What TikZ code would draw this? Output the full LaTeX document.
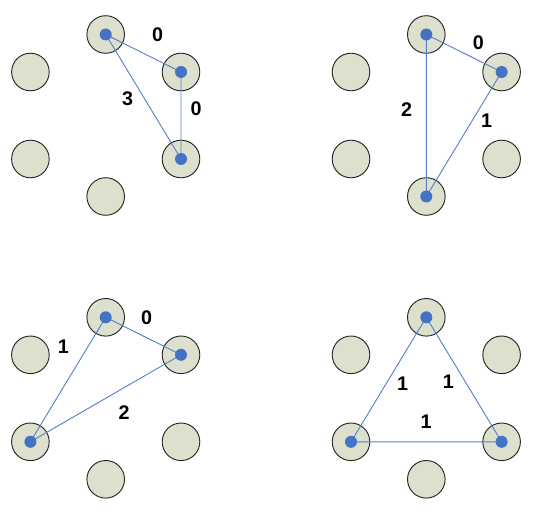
\documentclass[tikz,border=0pt]{standalone}
\usepackage{fontspec}
\setmainfont{Liberation Sans}
\definecolor{seatfill}{HTML}{DDE0CC}
\definecolor{pick}{HTML}{4472C4}
\begin{document}
\begin{tikzpicture}[x=0.75pt,y=-0.75pt,
  seat/.style={circle,draw=black!85,fill=seatfill,line width=0.7pt,minimum size=28.2pt,inner sep=0pt},
  link/.style={pick!90!white,line width=0.7pt},
  wt/.style={font=\fontsize{14.8}{17}\selectfont\bfseries,inner sep=0pt}]
\useasboundingbox (0,0) rectangle (541,516);
% four panels of six seats each
\foreach \p/\cx/\cy in {a/105.7/115.5, b/426.3/115.5, c/105.7/398.3, d/426.3/398.3} {
  \foreach \s/\dx/\dy in {t/0/-81, ur/75.3/-43.5, lr/75.3/43.5, b/0/81, ll/-75.3/43.5, ul/-75.3/-43.5}
    \node[seat] (\p\s) at (\cx+\dx,\cy+\dy) {};
}
% chosen triangles
\draw[link] (at.center) -- (aur.center) -- (alr.center) -- (at.center);
\draw[link] (bt.center) -- (bur.center) -- (bb.center) -- (bt.center);
\draw[link] (ct.center) -- (cur.center) -- (cll.center) -- (ct.center);
\draw[link] (dt.center) -- (dlr.center) -- (dll.center) -- (dt.center);
\foreach \n in {at,aur,alr,bt,bur,bb,ct,cur,cll,dt,dll,dlr}
  \fill[pick] (\n.center) circle (4.5pt);
% weights
\node[wt] (wa1) at (157.7,34.3) {0};
\node[wt] (wa2) at (196,108.3) {0};
\node[wt] (wa3) at (127.7,99) {3};
\node[wt] (wb1) at (478.3,42.7) {0};
\node[wt] (wb2) at (486.7,120.7) {1};
\node[wt] (wb3) at (406.7,109.3) {2};
\node[wt] (wc1) at (146.7,317.3) {0};
\node[wt] (wc2) at (63.3,346.7) {1};
\node[wt] (wc3) at (124,412.7) {2};
\node[wt] (wd1) at (402.7,384) {1};
\node[wt] (wd2) at (448.3,381.7) {1};
\node[wt] (wd3) at (426,421.7) {1};
\end{tikzpicture}
\end{document}
